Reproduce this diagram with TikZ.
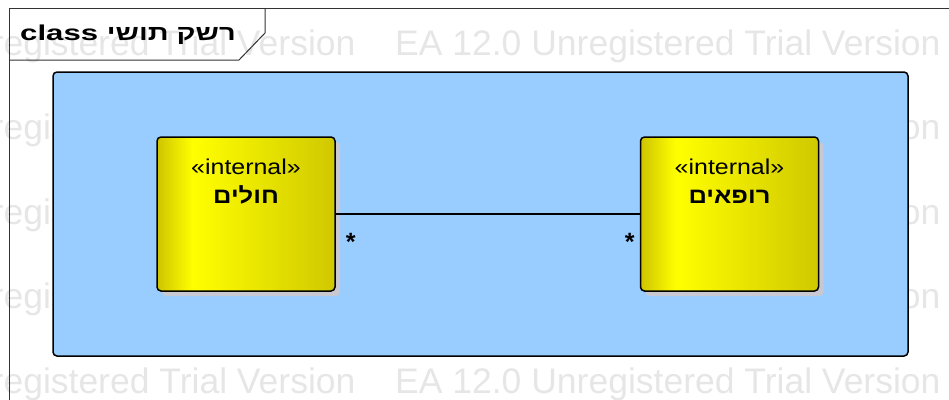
\documentclass[tikz,border=0pt]{standalone}
\usepackage{fontspec}
\usetikzlibrary{shadows}
\TeXXeTstate=1
\setmainfont{Liberation Sans}
\newfontfamily\widefont[FakeStretch=1.16]{Liberation Sans}
\newfontfamily\hebfont[Script=Hebrew,FakeStretch=1.16]{Liberation Sans}
\newfontfamily\titlefont[FakeStretch=1.45]{Liberation Sans}
\newfontfamily\hebtitle[Script=Hebrew,FakeStretch=1.35]{Liberation Sans}

\definecolor{pkgblue}{RGB}{153,204,255}
\definecolor{shadowgray}{RGB}{200,200,210}
\definecolor{markgray}{RGB}{230,230,230}
\definecolor{yelL}{RGB}{206,196,0}
\definecolor{yelB}{RGB}{255,255,0}
\definecolor{yelR}{RGB}{208,200,0}
\pgfdeclarehorizontalshading{classfill}{100bp}{color(0bp)=(yelL); color(25bp)=(yelL);
  color(35bp)=(yelB); color(75bp)=(yelR); color(100bp)=(yelR)}

\begin{document}
\begin{tikzpicture}[x=1pt, y=-1pt,
  watermark/.style={text=markgray, inner sep=0, anchor=base west, font=\fontsize{35.5}{40}\selectfont},
  frameline/.style={draw=black!80, line width=1pt},
  package/.style={draw, line width=1.5pt, fill=pkgblue, rounded corners=4pt,
    minimum width=855pt, minimum height=284pt},
  classbox/.style={draw, line width=1.5pt, rounded corners=4pt, shading=classfill,
    minimum width=178pt, minimum height=154pt,
    drop shadow={shadow xshift=5pt, shadow yshift=-5pt, fill=shadowgray, opacity=1}},
  stereo/.style={anchor=base, inner sep=0, font=\widefont\fontsize{21.5}{25}\selectfont},
  clname/.style={anchor=base, inner sep=0, font=\hebfont\bfseries\fontsize{22}{26}\selectfont},
  mult/.style={anchor=base, inner sep=0, font=\bfseries\fontsize{25}{28}\selectfont}]
\clip (0,0) rectangle (949,399);

% watermark
\foreach \y in {55,139.5,224,308.5,393}
  \foreach \k in {-1,0,1}
    \node[watermark] (wm-\k) at (395+585*\k,\y) {EA 12.0 Unregistered Trial Version};

% diagram frame
\draw[frameline] (9,410) -- (9,8) -- (960,8);
\draw[frameline] (9,60) -- (239,60) -- (265,33) -- (265,8);
\node[anchor=base west, inner sep=0, font=\fontsize{21.5}{25}\selectfont\bfseries] (title) at (20,40)
  {\titlefont class \hebtitle\beginR רשק תושי\endR};

\node[package] (pkg) at (480.5,214) {};

\foreach \n/\x/\t in {cholim/246/חולים, rofim/729.5/רופאים} {
  \node[classbox] (\n) at (\x,214) {};
  \node[stereo] (\n-st) at ([yshift=-38pt]\n.north) {«internal»};
  \node[clname] (\n-nm) at ([yshift=-67pt]\n.north) {\beginR\t\endR};
}

\draw[line width=1.2pt] (cholim) -- (rofim);
\node[mult] (m1) at ([xshift=15pt,yshift=-36pt]cholim.east) {*};
\node[mult] (m2) at ([xshift=-10pt,yshift=-36pt]rofim.west) {*};
\end{tikzpicture}
\end{document}
